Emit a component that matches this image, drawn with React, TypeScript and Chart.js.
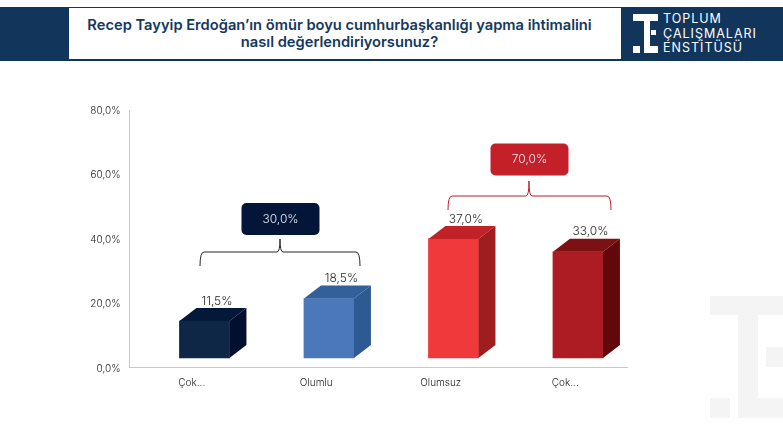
import { useEffect, useRef } from "react"
import { Chart, registerables } from "chart.js"

Chart.register(...registerables)

const categories = ["Çok...", "Olumlu", "Olumsuz", "Çok..."]
const values = [11.5, 18.5, 37.0, 33.0]
const frontColors = ["#0e2747", "#4a78bb", "#f0393b", "#ac1c22"]
const topColors = ["#04183a", "#33609a", "#c12228", "#7c1113"]
const sideColors = ["#020f30", "#2d5a92", "#9f1c1f", "#62080a"]

const titleLines = [
  "Recep Tayyip Erdoğan’ın ömür boyu cumhurbaşkanlığı yapma ihtimalini",
  "nasıl değerlendiriyorsunuz?",
]
const logoLines = ["TOPLUM", "ÇALIŞMALARI", "ENSTİTÜSÜ"]

const groupTotals = [30.0, 70.0]
const groupColors = ["#03163a", "#c4202a"]
const bracketLineColors = ["#22262f", "#b5202a"]

const FONT = "Inter, 'Open Sans', sans-serif"
const NAVY = "#12355c"
const DEPTH_X = 17
const DEPTH_Y = 13

const pct = (v: number) => `${v.toFixed(1).replace(".", ",")}%`

const box = (left: number, top: number, width: number, height: number, background: string) => ({
  position: "absolute" as const,
  left,
  top,
  width,
  height,
  background,
})

// callout box + curly bracket over each pair of bars
const brackets = [
  { x0: 200, x1: 360, yLow: 266, yLine: 252, peak: 239, xPeak: 280, bx: 241.5, by: 203, bw: 78, bh: 32 },
  { x0: 448, x1: 611, yLow: 210, yLine: 196, peak: 181, xPeak: 529, bx: 490.5, by: 143.5, bw: 78, bh: 32 },
]

const bars3d = {
  id: "bars3d",
  afterDatasetsDraw(chart: Chart) {
    const { ctx } = chart
    const meta = chart.getDatasetMeta(0)
    meta.data.forEach((el: any, i: number) => {
      const left = el.x - el.width / 2
      const right = el.x + el.width / 2
      const top = el.y
      const base = el.base

      ctx.fillStyle = topColors[i]
      ctx.beginPath()
      ctx.moveTo(left, top)
      ctx.lineTo(left + DEPTH_X, top - DEPTH_Y)
      ctx.lineTo(right + DEPTH_X, top - DEPTH_Y)
      ctx.lineTo(right, top)
      ctx.closePath()
      ctx.fill()

      ctx.fillStyle = sideColors[i]
      ctx.beginPath()
      ctx.moveTo(right, top)
      ctx.lineTo(right + DEPTH_X, top - DEPTH_Y)
      ctx.lineTo(right + DEPTH_X, base - DEPTH_Y)
      ctx.lineTo(right, base)
      ctx.closePath()
      ctx.fill()

      ctx.fillStyle = "#1f1f1f"
      ctx.font = `300 12px ${FONT}`
      ctx.textAlign = "center"
      ctx.textBaseline = "middle"
      ctx.fillText(pct(values[i]), el.x + 12.5, top - DEPTH_Y - 7)
    })
  },
}

const groupBrackets = {
  id: "groupBrackets",
  afterDraw(chart: Chart) {
    const { ctx } = chart
    brackets.forEach((b, i) => {
      ctx.strokeStyle = bracketLineColors[i]
      ctx.lineWidth = 1
      ctx.beginPath()
      ctx.moveTo(b.x0, b.yLow)
      ctx.quadraticCurveTo(b.x0, b.yLine, b.x0 + 4, b.yLine)
      ctx.lineTo(b.xPeak - 3, b.yLine)
      ctx.quadraticCurveTo(b.xPeak, b.yLine, b.xPeak, b.peak)
      ctx.quadraticCurveTo(b.xPeak, b.yLine, b.xPeak + 3, b.yLine)
      ctx.lineTo(b.x1 - 4, b.yLine)
      ctx.quadraticCurveTo(b.x1, b.yLine, b.x1, b.yLow)
      ctx.stroke()

      ctx.fillStyle = groupColors[i]
      ctx.beginPath()
      ctx.roundRect(b.bx, b.by, b.bw, b.bh, 5)
      ctx.fill()

      ctx.fillStyle = "#e8ecf2"
      ctx.font = `300 12px ${FONT}`
      ctx.textAlign = "center"
      ctx.textBaseline = "middle"
      ctx.fillText(pct(groupTotals[i]), b.bx + b.bw / 2, b.by + b.bh / 2)
    })
  },
}

export default function App() {
  const chartRef = useRef<HTMLCanvasElement>(null)

  useEffect(() => {
    if (!chartRef.current) return

    const chart = new Chart(chartRef.current, {
      type: "bar",
      data: {
        labels: categories,
        datasets: [
          {
            data: values.map((v, i) => ({ x: i, y: v })),
            backgroundColor: frontColors,
            barThickness: 50,
            borderWidth: 0,
            xAxisID: "xBars",
            yAxisID: "yBars",
          },
        ],
      },
      options: {
        animation: false,
        responsive: false,
        devicePixelRatio: 1,
        layout: { padding: { top: 110, right: 155.5, left: 0, bottom: 0 } },
        plugins: {
          legend: { display: false },
          tooltip: { enabled: false },
        },
        scales: {
          // visible axes
          x: {
            type: "category",
            offset: true,
            afterFit: (s: any) => {
              s.height = 57.5
            },
            grid: { display: false, drawTicks: false },
            border: { display: true, color: "#c8c8c8" },
            ticks: {
              color: "#222222",
              padding: 9,
              maxRotation: 0,
              autoSkip: false,
              font: { family: FONT, size: 10, weight: "300" },
            },
          },
          y: {
            type: "linear",
            min: 0,
            max: 80,
            afterFit: (s: any) => {
              s.width = 129.5
            },
            grid: { display: false, drawTicks: false },
            border: { display: true, color: "#c8c8c8" },
            ticks: {
              stepSize: 20,
              color: "#222222",
              padding: 9,
              labelOffset: 1,
              font: { family: FONT, size: 10, weight: "300" },
              callback: (v: any) => pct(Number(v)),
            },
          },
          // hidden axes, the 3d bars sit slightly above and right of the floor
          xBars: { type: "linear", axis: "x", display: false, offset: false, min: -0.602, max: 3.398 },
          yBars: { type: "linear", axis: "y", display: false, min: -2.95, max: 77.05 },
        },
      } as any,
      plugins: [bars3d, groupBrackets],
    })

    return () => chart.destroy()
  }, [])

  return (
    <div style={{ position: "absolute", left: 0, top: 0, width: 783, height: 425, overflow: "hidden", background: "#fff", fontFamily: FONT }}>
      {/* watermark */}
      <div style={box(710, 296, 73, 19, "#f4f4f4")} />
      <div style={box(738, 315, 20, 103, "#f4f4f4")} />
      <div style={box(758, 398, 25, 20, "#f4f4f4")} />
      <div style={box(766, 347, 17, 20, "#f4f4f4")} />
      <div style={box(710, 398, 20, 20, "#f4f4f4")} />

      {/* header band */}
      <div style={box(0, 7, 783, 54, NAVY)} />
      <div
        style={{
          ...box(69, 8, 541, 51, "#fff"),
          paddingRight: 11,
          display: "flex",
          flexDirection: "column",
          justifyContent: "center",
          alignItems: "center",
          color: "#14375e",
          fontWeight: 600,
          fontSize: 14.68,
          lineHeight: "17px",
        }}
      >
        {titleLines.map((t) => (
          <div key={t} style={{ whiteSpace: "nowrap" }}>
            {t}
          </div>
        ))}
      </div>

      {/* logo */}
      <div style={box(633, 14, 25, 7, "#fff")} />
      <div style={box(644, 21, 6, 32, "#fff")} />
      <div style={box(650, 46, 8, 7, "#fff")} />
      <div style={box(651, 30, 5, 5, "#fff")} />
      <div style={box(633, 46, 7, 7, "#fff")} />
      {logoLines.map((t, i) => (
        <div
          key={t}
          style={{
            position: "absolute",
            left: 663,
            top: 12 + i * 14.5,
            color: "#fff",
            fontSize: 12.5,
            lineHeight: "14px",
            letterSpacing: 1,
            whiteSpace: "nowrap",
          }}
        >
          {t}
        </div>
      ))}

      <canvas ref={chartRef} width={783} height={425} style={{ position: "absolute", left: 0, top: 0 }} />
    </div>
  )
}
